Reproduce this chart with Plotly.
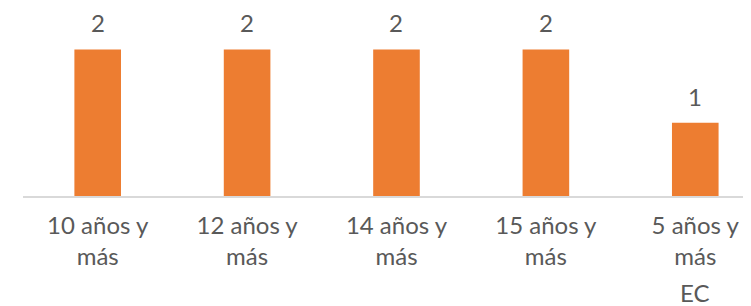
import plotly.graph_objects as go

categories = ["10 años y<br>más", "12 años y<br>más", "14 años y<br>más", "15 años y<br>más", "5 años y<br>más"]
group_labels = ["", "", "", "", "EC"]
values = [2, 2, 2, 2, 1]
value_labels = ["2", "2", "2", "2", "1"]

BAR = "#ED7D31"
TXT = "#595959"
FONT = "Lato"

fig = go.Figure()
fig.add_trace(go.Bar(
    x=list(range(len(categories))), y=values,
    marker=dict(color=BAR, line=dict(width=0)),
    width=0.312,
    hoverinfo="skip",
))

for i, (v, t) in enumerate(zip(values, value_labels)):
    fig.add_annotation(x=i, y=v, text=t, showarrow=False, yanchor="bottom",
                       yshift=10, font=dict(family=FONT, size=24, color=TXT))

for i, g in enumerate(group_labels):
    if g:
        fig.add_annotation(x=i, xref="x", y=0, yref="paper", text=g, showarrow=False,
                           yanchor="top", yshift=-81, borderpad=0,
                           font=dict(family=FONT, size=24, color=TXT))

fig.update_layout(
    width=751, height=306,
    margin=dict(l=15, r=8, t=0, b=118, autoexpand=False),
    paper_bgcolor="white", plot_bgcolor="white",
    showlegend=False,
    font=dict(family=FONT, size=24, color=TXT),
    xaxis=dict(
        range=[-0.5, 4.373],
        tickmode="array",
        tickvals=list(range(len(categories))),
        ticktext=categories,
        showline=True, linecolor="#D9D9D9", linewidth=2,
        showgrid=False, zeroline=False, ticks="",
        ticklabelstandoff=7,
        automargin=False,
        tickfont=dict(family=FONT, size=24, color=TXT),
    ),
    yaxis=dict(range=[0, 2.565], visible=False, showgrid=False, zeroline=False,
               automargin=False),
)

fig.write_html("out.html")
